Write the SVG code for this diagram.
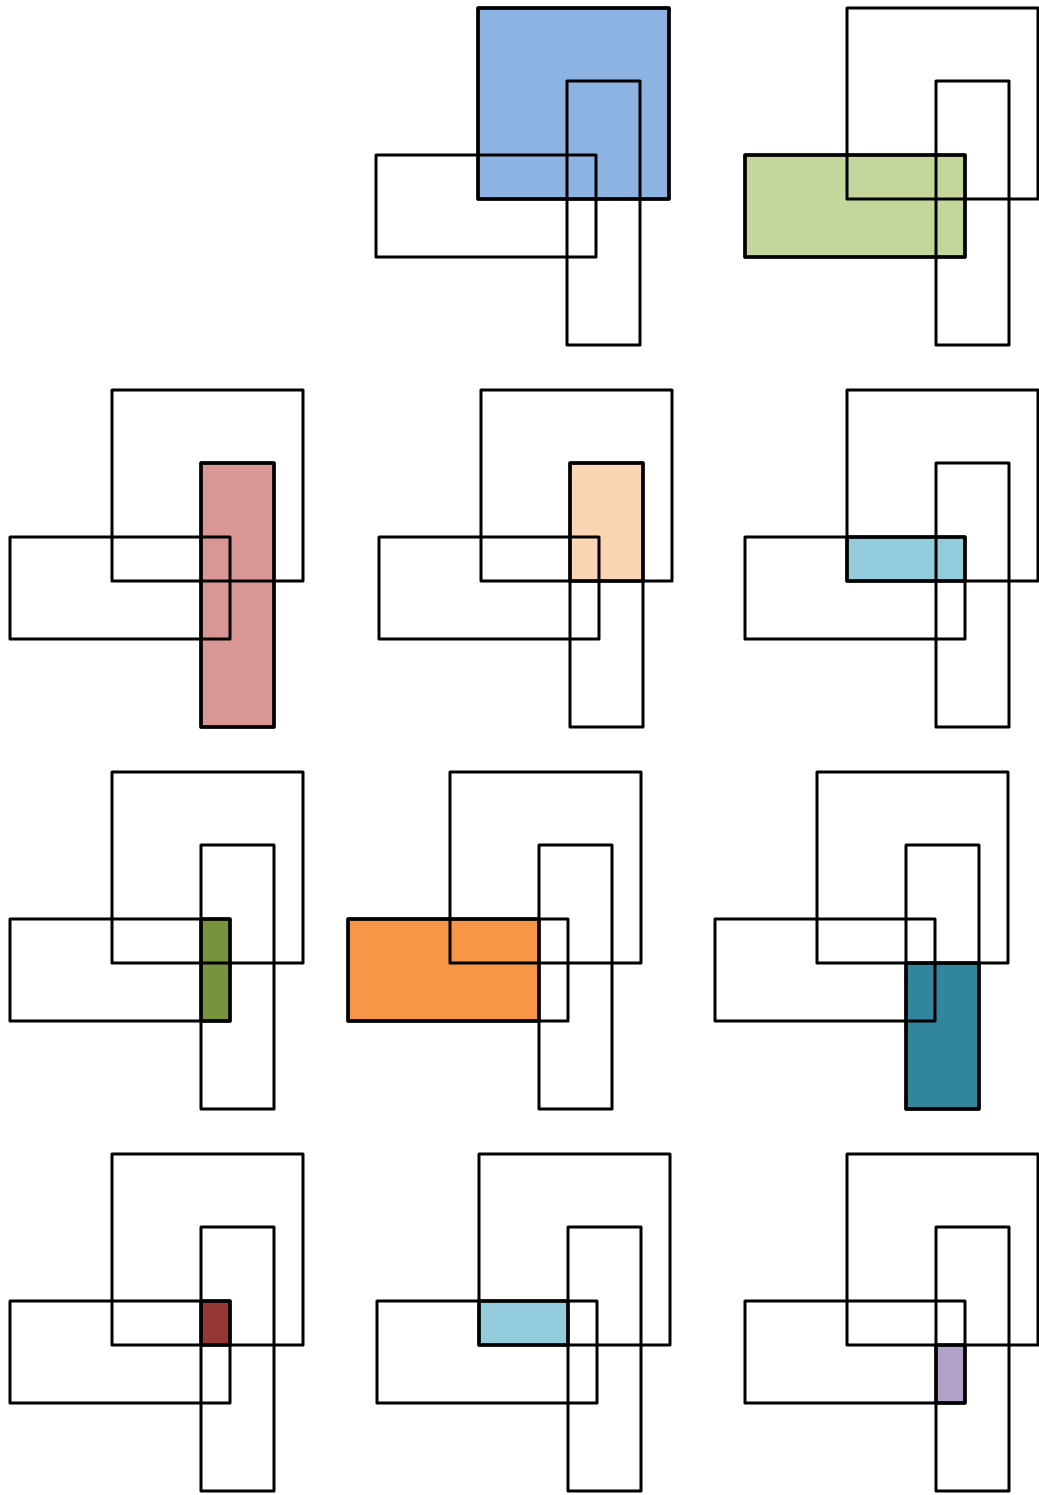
<svg xmlns="http://www.w3.org/2000/svg" xmlns:xlink="http://www.w3.org/1999/xlink" width="1039" height="1495" viewBox="0 0 1039 1495">
<style>
.o{fill:none;stroke:#000;stroke-width:3;stroke-linejoin:round}
.f{stroke:#000;stroke-width:3.5;stroke-linejoin:round}
</style>
<defs>
<g id="trio">
<rect class="o" x="0" y="0" width="191" height="191"/>
<rect class="o" x="-102" y="147" width="220" height="102"/>
<rect class="o" x="89" y="73" width="73" height="264"/>
</g>
</defs>
<rect width="1039" height="1495" fill="#fff"/>
<g id="p01" transform="translate(478,8)">
<rect class="f" fill="#8db3e2" x="0" y="0" width="191" height="191"/>
<use xlink:href="#trio"/>
</g>
<g id="p02" transform="translate(847,8)">
<rect class="f" fill="#c3d69b" x="-102" y="147" width="220" height="102"/>
<use xlink:href="#trio"/>
</g>
<g id="p10" transform="translate(112,390)">
<rect class="f" fill="#d99694" x="89" y="73" width="73" height="264"/>
<use xlink:href="#trio"/>
</g>
<g id="p11" transform="translate(481,390)">
<rect class="f" fill="#fcd5b5" x="89" y="73" width="73" height="118"/>
<use xlink:href="#trio"/>
</g>
<g id="p12" transform="translate(847,390)">
<rect class="f" fill="#93cddd" x="0" y="147" width="118" height="44"/>
<use xlink:href="#trio"/>
</g>
<g id="p20" transform="translate(112,772)">
<rect class="f" fill="#77933c" x="89" y="147" width="29" height="102"/>
<use xlink:href="#trio"/>
</g>
<g id="p21" transform="translate(450,772)">
<rect class="f" fill="#f79646" x="-102" y="147" width="191" height="102"/>
<use xlink:href="#trio"/>
</g>
<g id="p22" transform="translate(817,772)">
<rect class="f" fill="#31859c" x="89" y="191" width="73" height="146"/>
<use xlink:href="#trio"/>
</g>
<g id="p30" transform="translate(112,1154)">
<rect class="f" fill="#953735" x="89" y="147" width="29" height="44"/>
<use xlink:href="#trio"/>
</g>
<g id="p31" transform="translate(479,1154)">
<rect class="f" fill="#93cddd" x="0" y="147" width="89" height="44"/>
<use xlink:href="#trio"/>
</g>
<g id="p32" transform="translate(847,1154)">
<rect class="f" fill="#b3a2c7" x="89" y="191" width="29" height="58"/>
<use xlink:href="#trio"/>
</g>
<g id="connectors"/>
</svg>
